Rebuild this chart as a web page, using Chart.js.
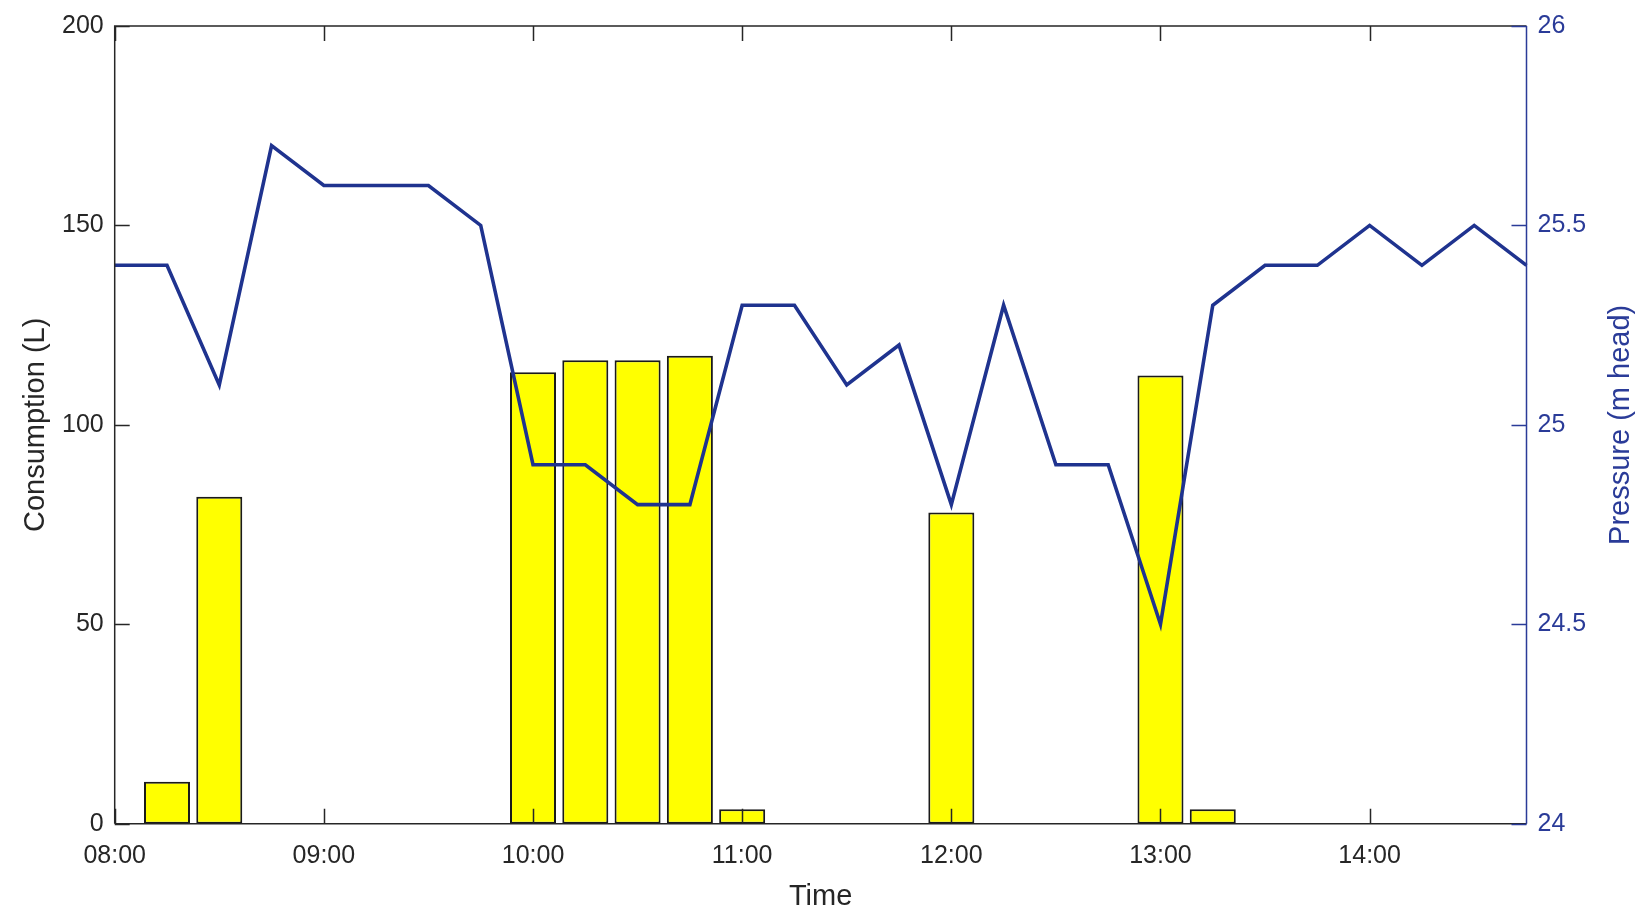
<!DOCTYPE html>
<html>
<head>
<meta charset="utf-8">
<script src="https://cdn.jsdelivr.net/npm/chart.js@4/dist/chart.umd.min.js"></script>
<style>
  html, body { margin: 0; padding: 0; background: #fff; }
  #wrap { width: 1635px; height: 911px; position: relative; }
</style>
</head>
<body>
<div id="wrap"><canvas id="chart"></canvas></div>
<script>
// time slots, every 15 minutes
const times = [
  "08:00", "08:15", "08:30", "08:45", "09:00", "09:15", "09:30", "09:45",
  "10:00", "10:15", "10:30", "10:45", "11:00", "11:15", "11:30", "11:45",
  "12:00", "12:15", "12:30", "12:45", "13:00", "13:15", "13:30", "13:45",
  "14:00", "14:15", "14:30", "14:45"
];

// consumption per slot (L), null = no use
const consumption = [
  null, 10.5, 82, null, null, null, null, null,
  113.2, 116.2, 116.2, 117.3, 3.6, null, null, null,
  78, null, null, null, 112.4, 3.6, null, null,
  null, null, null, null
];

// pressure (m head)
const pressure = [
  25.4, 25.4, 25.1, 25.7, 25.6, 25.6, 25.6, 25.5,
  24.9, 24.9, 24.8, 24.8, 25.3, 25.3, 25.1, 25.2,
  24.8, 25.3, 24.9, 24.9, 24.5, 25.3, 25.4, 25.4,
  25.5, 25.4, 25.5, 25.4
];

const hourTicks = ["08:00", "09:00", "10:00", "11:00", "12:00", "13:00", "14:00"];

const FONT = "'Liberation Sans', Arial, Helvetica, sans-serif";
const DARK = "#262626";
const BLUE = "#2a3b98";
const LINE_BLUE = "#1f338f";

// draws the matlab-like box, inward ticks and the right axis title
const boxPlugin = {
  id: "boxTicks",
  afterDatasetsDraw(chart) {
    const { ctx, chartArea: a, scales } = chart;
    const tl = 15;
    ctx.save();
    ctx.lineWidth = 1.5;

    // x ticks, bottom and top
    ctx.strokeStyle = DARK;
    ctx.beginPath();
    times.forEach((t, i) => {
      if (!hourTicks.includes(t)) return;
      const px = Math.round(scales.x.getPixelForValue(i)) + 0.5;
      ctx.moveTo(px, a.bottom); ctx.lineTo(px, a.bottom - tl);
      ctx.moveTo(px, a.top); ctx.lineTo(px, a.top + tl);
    });
    // left ticks
    scales.y.ticks.forEach((t) => {
      const py = Math.round(scales.y.getPixelForValue(t.value)) + 0.5;
      ctx.moveTo(a.left, py); ctx.lineTo(a.left + tl, py);
    });
    // box: left, top, bottom
    ctx.moveTo(a.left, a.bottom); ctx.lineTo(a.left, a.top); ctx.lineTo(a.right, a.top);
    ctx.moveTo(a.left, a.bottom); ctx.lineTo(a.right, a.bottom);
    ctx.stroke();

    // right axis in blue
    ctx.strokeStyle = BLUE;
    ctx.beginPath();
    scales.y2.ticks.forEach((t) => {
      const py = Math.round(scales.y2.getPixelForValue(t.value)) + 0.5;
      ctx.moveTo(a.right, py); ctx.lineTo(a.right - tl, py);
    });
    ctx.moveTo(a.right, a.top); ctx.lineTo(a.right, a.bottom);
    ctx.stroke();

    // right title, reading bottom to top
    ctx.fillStyle = BLUE;
    ctx.font = "29px " + FONT;
    ctx.textAlign = "center";
    ctx.textBaseline = "middle";
    ctx.translate(1621, (a.top + a.bottom) / 2);
    ctx.rotate(-Math.PI / 2);
    ctx.fillText("Pressure (m head)", 0, 0);
    ctx.restore();
  }
};

const ctx = document.getElementById("chart").getContext("2d");

new Chart(ctx, {
  data: {
    labels: times,
    datasets: [
      {
        type: "line",
        label: "Pressure",
        data: pressure,
        yAxisID: "y2",
        borderColor: LINE_BLUE,
        borderWidth: 3.6,
        pointRadius: 0,
        tension: 0,
        order: 0
      },
      {
        type: "bar",
        label: "Consumption",
        data: consumption,
        yAxisID: "y",
        backgroundColor: "#ffff00",
        borderColor: "#1a1a1a",
        borderWidth: 2,
        borderSkipped: false,
        barPercentage: 0.88,
        categoryPercentage: 1,
        order: 1
      }
    ]
  },
  options: {
    responsive: true,
    maintainAspectRatio: false,
    animation: false,
    layout: { padding: { top: 25, left: 0, right: 0, bottom: 0 } },
    plugins: {
      legend: { display: false },
      tooltip: { enabled: false }
    },
    scales: {
      x: {
        type: "category",
        offset: false,
        grid: { display: false, drawTicks: false },
        border: { display: false },
        ticks: {
          autoSkip: false,
          maxRotation: 0,
          padding: 17,
          color: DARK,
          font: { family: FONT, size: 25 },
          callback: (v, i) => (hourTicks.includes(times[i]) ? times[i] : "")
        },
        title: {
          display: true,
          text: "Time",
          color: DARK,
          font: { family: FONT, size: 29, lineHeight: 1 },
          padding: { top: 0, bottom: 0 }
        },
        afterFit: (s) => { s.height = 87.3; }
      },
      y: {
        position: "left",
        min: 0,
        max: 200,
        grid: { display: false, drawTicks: false },
        border: { display: false },
        ticks: {
          stepSize: 50,
          padding: 11,
          color: DARK,
          font: { family: FONT, size: 25 }
        },
        title: {
          display: true,
          text: "Consumption (L)",
          color: DARK,
          font: { family: FONT, size: 29 },
          padding: { top: 19, bottom: 0 }
        },
        afterFit: (s) => { s.width = 114.7; }
      },
      y2: {
        position: "right",
        min: 24,
        max: 26,
        grid: { display: false, drawTicks: false },
        border: { display: false },
        ticks: {
          stepSize: 0.5,
          padding: 11,
          color: BLUE,
          font: { family: FONT, size: 25 },
          callback: (v) => String(v)
        },
        afterFit: (s) => { s.width = 108.5; }
      }
    }
  },
  plugins: [boxPlugin]
});
</script>
</body>
</html>
